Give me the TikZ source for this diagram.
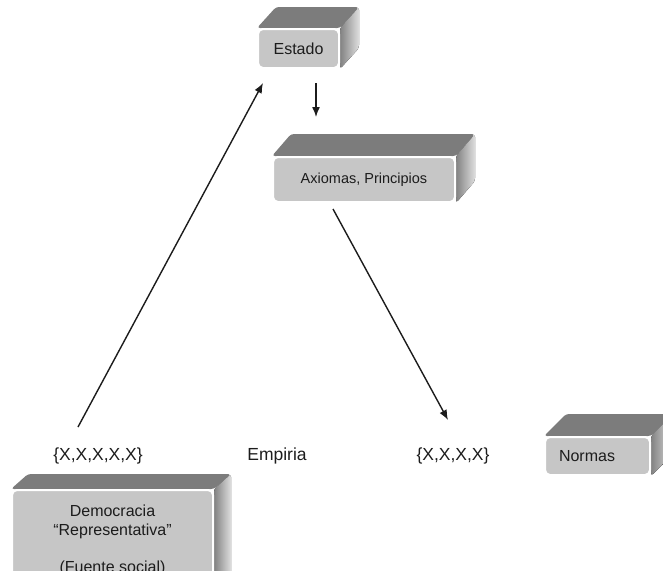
\documentclass[tikz,border=0pt]{standalone}
\usepackage{fontspec}
\setmainfont{Liberation Sans}
\usetikzlibrary{calc,arrows.meta}
\pgfdeclarelayer{fondo}
\pgfsetlayers{fondo,main}
\definecolor{grisfrente}{RGB}{198,198,198}
\definecolor{gristapa}{RGB}{124,124,124}
\definecolor{grisosc}{RGB}{130,130,130}
\definecolor{griscla}{RGB}{222,222,222}
\definecolor{tinta}{RGB}{28,28,28}

\begin{document}
\begin{tikzpicture}[x=1pt,y=-1pt,
  caja/.style={draw=white,line width=2pt,fill=grisfrente,rounded corners=5pt,inner sep=0pt,text=tinta,font=\fontsize{16}{19}\selectfont},
  rotulo/.style={text=tinta,inner sep=0pt,font=\fontsize{17.5}{21}\selectfont},
  flecha/.style={draw=tinta,line width=1.4pt,-{Latex[length=10pt,width=8pt]}},
  tapa/.style={fill=gristapa,rounded corners=3pt},
  lado/.style={left color=grisosc,right color=griscla,rounded corners=3pt}]
\useasboundingbox (0,0) rectangle (663,573);
\clip (0,0) rectangle (663,570);

\node[caja,minimum width=81,minimum height=39] (estado) at (298.5,48.5) {Estado};
\node[caja,minimum width=182,minimum height=45,font=\fontsize{14.5}{17}\selectfont] (axiomas) at (364,179.5) {Axiomas, Principios};
\node[caja,minimum width=105,minimum height=38,text width=77,align=left] (normas) at (597.5,456) {Normas};
\node[caja,minimum width=201,minimum height=100,align=center] (democracia) at (112.5,540) {Democracia\\“Representativa”\\[18pt](Fuente social)};

\node[rotulo] (conjA) at (98,456) {\{X,X,X,X,X\}};
\node[rotulo] (empiria) at (277,456) {Empiria};
\node[rotulo] (conjB) at (453,456) {\{X,X,X,X\}};

\begin{pgfonlayer}{fondo}
\clip (0,0) rectangle (663,570);
\foreach \n/\dx/\dy in {estado/19/21,axiomas/19/22,democracia/17/15,normas/22/22}{
  \fill[lado] (\n.north east) -- ++(\dx,-\dy) -- ($(\n.south east)+(\dx,-\dy)$) -- (\n.south east) -- cycle;
  \fill[tapa] (\n.north west) -- ++(\dx,-\dy) -- ($(\n.north east)+(\dx,-\dy)$) -- (\n.north east) -- cycle;
}
\end{pgfonlayer}

\draw[flecha] ($(conjA.center)+(-20,-29)$) -- ($(estado.south west)+(6,14)$);
\draw[flecha] ($(estado.south)+(17.5,14)$) -- ($(axiomas.north)+(-48,-39)$);
\draw[flecha] ($(axiomas.south)+(-31,6)$) -- ($(conjB.center)+(-5,-36)$);
\end{tikzpicture}
\end{document}
